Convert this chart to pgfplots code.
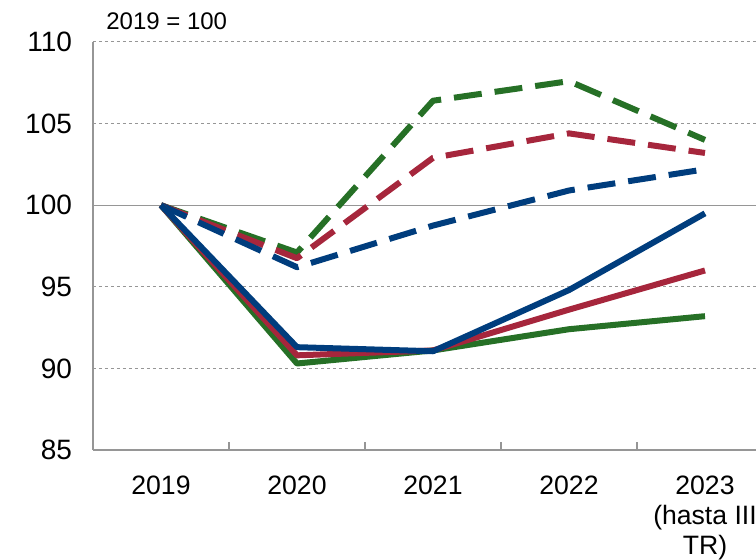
\documentclass[border=0pt]{standalone}
\usepackage{pgfplots}
\pgfplotsset{compat=1.18}
\usepackage{fontspec}
\setmainfont{Liberation Sans}
\definecolor{cgreen}{RGB}{38,112,38}
\definecolor{cred}{RGB}{166,38,60}
\definecolor{cblue}{RGB}{0,61,125}
\definecolor{cgrid}{RGB}{150,150,150}
\begin{document}
\begin{tikzpicture}
\useasboundingbox (-46.5pt,-55pt) rectangle (331.5pt,225pt);
\begin{scope}
\clip (-46.5pt,-55pt) rectangle (331.5pt,225pt);
\begin{axis}[
  at={(0pt,0pt)}, anchor=south west,
  scale only axis, width=340pt, height=204pt,
  xmin=-0.5, xmax=4.5, ymin=85, ymax=110,
  axis x line=bottom, axis y line=left,
  axis line style={-, cgrid, line width=0.6pt},
  xtick={0,1,2,3,4},
  xticklabels={2019,2020,2021,2022,{2023\\(hasta III\\TR)}},
  xticklabel style={align=center, font=\fontsize{13.3}{15}\selectfont, text=black, yshift=-9.5pt},
  major x tick style={draw=none},
  minor xtick={0.5,1.5,2.5,3.5},
  minor tick length=4pt,
  minor x tick style={cgrid, line width=0.6pt},
  tick align=inside,
  ytick={85,90,95,100,105,110},
  ymajorgrids,
  major grid style={cgrid, line width=0.5pt, dash pattern=on 1.5pt off 1.5pt},
  major y tick style={draw=none},
  yticklabel style={font=\fontsize{14}{16}\selectfont, text=black, xshift=-7pt},
  /pgf/number format/assume math mode=true,
  xtick pos=bottom,
  extra y ticks={100},
  extra y tick labels={},
  extra y tick style={ymajorgrids, major grid style={cgrid, solid, line width=0.6pt}},
  clip=false,
  line join=round,
]
\node[anchor=base west, font=\fontsize{12}{14}\selectfont, inner sep=0pt] at (rel axis cs:0.019,1.03) {2019 = 100};
% dashed
\addplot[cgreen, line width=3pt, dash pattern=on 14pt off 6.5pt] coordinates {(0,100) (1,97.1) (2,106.4) (3,107.6) (4,104.0)};
\addplot[cred, line width=3pt, dash pattern=on 14pt off 6.5pt] coordinates {(0,100) (1,96.75) (2,102.9) (3,104.4) (4,103.2)};
\addplot[cblue, line width=3pt, dash pattern=on 14pt off 6.5pt] coordinates {(0,100) (1,96.2) (2,98.75) (3,100.9) (4,102.2)};
% solid
\addplot[cgreen, line width=3pt] coordinates {(0,100) (1,90.3) (2,91.1) (3,92.4) (4,93.2)};
\addplot[cred, line width=3pt] coordinates {(0,100) (1,90.8) (2,91.1) (3,93.6) (4,96.0)};
\addplot[cblue, line width=3pt] coordinates {(0,100) (1,91.3) (2,91.05) (3,94.8) (4,99.5)};
\end{axis}
\end{scope}
\end{tikzpicture}
\end{document}
